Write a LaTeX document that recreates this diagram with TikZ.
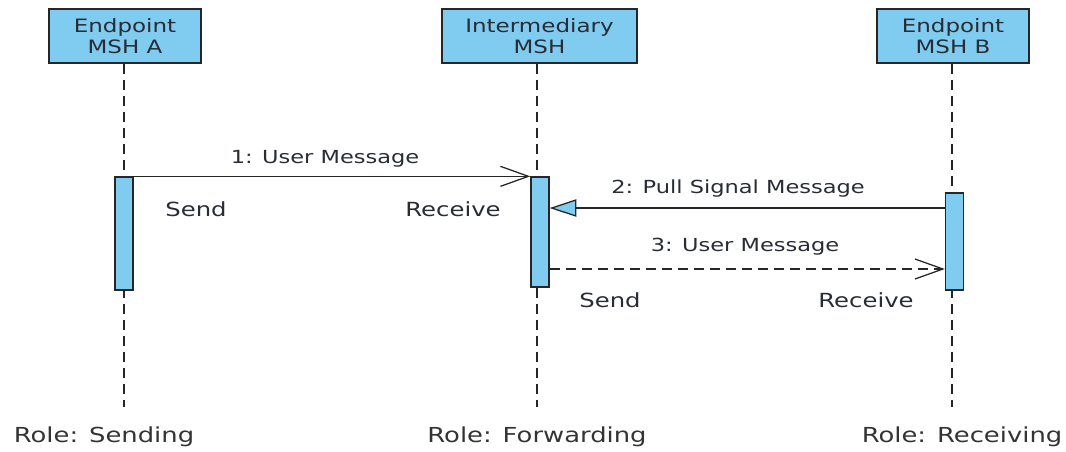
\documentclass[tikz,border=0pt]{standalone}
\usepackage{fontspec}
\setmainfont{DejaVu Sans}[FakeStretch=1.25]
\usepackage{xcolor}
\usepackage{tikz}
\usetikzlibrary{arrows.meta}
\definecolor{mshblue}{RGB}{128,204,240}
\definecolor{ink}{RGB}{40,44,52}
\tikzset{
    head/.style={rectangle, draw=black!85, line width=1.1pt, fill=mshblue, align=center, minimum width=114pt, minimum height=40.5pt, inner sep=0pt, font=\fontsize{13.8}{15.5}\selectfont, text=ink},
    act/.style={rectangle, draw=black!85, line width=1pt, fill=mshblue, minimum width=13.5pt, inner sep=0pt},
    life/.style={draw=black!85, line width=1.1pt, dash pattern=on 7.5pt off 4.5pt},
    msg/.style={draw=black!85, line width=0.95pt, -{Straight Barb[length=21pt, width=15pt, line width=0.95pt]}},
    pull/.style={draw=black!85, line width=0.95pt, -{Triangle[length=20pt, width=13pt, fill=mshblue, line width=0.95pt]}},
    reply/.style={msg, dash pattern=on 7.5pt off 4.5pt},
    label/.style={font=\fontsize{13.5}{15}\selectfont, text=ink, inner sep=1pt},
    side/.style={font=\fontsize{14.6}{16}\selectfont, text=ink, inner sep=1pt},
    role/.style={font=\fontsize{15.5}{17}\selectfont, text=black!80, inner sep=1pt}
}
\begin{document}
\begin{tikzpicture}[x=0.75pt, y=-0.75pt]
        \useasboundingbox (0,0) rectangle (1066,451);
        % lifeline heads
        \node[head] (MshA) at (125,36) {Endpoint\\MSH A};
        \node[head, minimum width=146pt] (MshI) at (539.5,36) {Intermediary\\MSH};
        \node[head] (MshB) at (953,36) {Endpoint\\MSH B};
        \coordinate (EndA) at (124,407);
        \coordinate (EndI) at (537,407);
        \coordinate (EndB) at (952,407);
        \draw[life] (MshA.south -| EndA) -- (EndA);
        \draw[life] (MshI.south -| EndI) -- (EndI);
        \draw[life] (MshB.south -| EndB) -- (EndB);

        % activations
        \node[act, minimum height=84.75pt] (ActA) at (124,233.5) {};
        \node[act, minimum height=82.5pt] (ActI) at (540,232) {};
        \node[act, minimum height=72.75pt] (ActB) at (954.5,241.5) {};

        % messages
        \coordinate (M2) at (0,208);
        \coordinate (M3) at (0,269);
        \draw[msg] (ActA.north east) -- (ActI.north west);
        \draw[pull] (ActB.west |- M2) -- (ActI.east |- M2);
        \draw[reply] (ActI.east |- M3) -- (ActB.west |- M3);
        \node[label] (Msg1) at (325,159) {1: User Message};
        \node[label] (Msg2) at (738,189) {2: Pull Signal Message};
        \node[label] (Msg3) at (745,247) {3: User Message};

        % send / receive
        \node[side] (SendA) at (196,209) {Send};
        \node[side] (RecvI) at (453,209) {Receive};
        \node[side] (SendI) at (610,300) {Send};
        \node[side] (RecvB) at (866,300) {Receive};

        % roles
        \node[role] (RoleA) at (104,437) {Role: Sending};
        \node[role] (RoleI) at (537,437) {Role: Forwarding};
        \node[role] (RoleB) at (962,437) {Role: Receiving};
    \end{tikzpicture}
\end{document}
